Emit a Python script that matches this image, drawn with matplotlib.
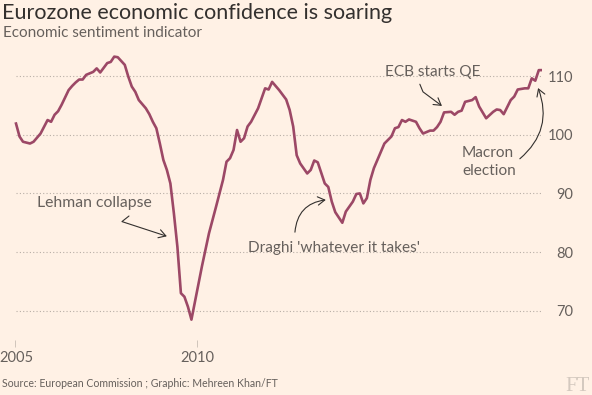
import pandas as pd
import numpy as np
import matplotlib.pyplot as plt
import matplotlib.transforms as mtransforms
from matplotlib.patches import FancyArrowPatch
from matplotlib.path import Path

# Economic sentiment indicator
months = ["2005-01","2005-02","2005-03","2005-05","2005-06","2005-08","2005-10","2005-11","2005-12",
          "2006-01","2006-02","2006-04","2006-05","2006-06","2006-07","2006-08","2006-09","2006-11","2006-12",
          "2007-01","2007-03","2007-04","2007-05","2007-06","2007-08","2007-09","2007-10","2007-11","2007-12",
          "2008-02","2008-03","2008-04","2008-05","2008-06","2008-07","2008-08","2008-09","2008-10","2008-11","2008-12",
          "2009-01","2009-02","2009-03","2009-06","2009-08","2009-10","2009-12",
          "2010-01","2010-02","2010-03","2010-04","2010-05","2010-06","2010-07","2010-08","2010-10","2010-11","2010-12",
          "2011-01","2011-02","2011-04","2011-06","2011-07","2011-08","2011-09","2011-10","2011-12",
          "2012-01","2012-02","2012-03","2012-05","2012-06","2012-07","2012-08","2012-10","2012-11",
          "2013-01","2013-02","2013-03","2013-04","2013-05","2013-06","2013-07","2013-09","2013-10","2013-12",
          "2014-01","2014-02","2014-03","2014-04","2014-05","2014-06","2014-07","2014-08","2014-09","2014-11","2014-12",
          "2015-01","2015-02","2015-03","2015-05","2015-06","2015-07","2015-08","2015-09","2015-11","2015-12",
          "2016-01","2016-03","2016-05","2016-06","2016-07","2016-08","2016-10","2016-11","2016-12",
          "2017-02","2017-03","2017-04","2017-05","2017-06","2017-07"]
esi = [101.9,99.7,98.8,98.5,98.8,100.2,102.5,102.2,103.4,
       104.0,105.1,107.6,108.3,108.9,109.4,109.4,110.2,110.7,111.3,
       110.6,112.2,112.4,113.3,113.2,111.9,109.9,108.2,107.3,105.9,
       104.5,103.5,102.2,101.1,98.5,95.7,94.0,91.7,86.6,80.9,73.0,
       72.4,70.7,68.5,77.6,83.2,87.7,92.3,
       95.4,96.0,97.4,100.8,98.8,99.4,101.4,102.2,104.5,106.2,107.9,
       107.7,109.0,107.6,106.0,104.2,101.4,96.5,95.1,93.4,
       94.0,95.6,95.3,91.7,91.1,88.6,86.8,85.0,86.9,
       88.6,89.9,90.0,88.3,89.2,92.3,94.3,97.1,98.5,99.7,
       101.1,101.3,102.5,102.2,102.6,102.4,102.2,101.1,100.2,100.7,100.7,
       101.3,102.2,103.8,103.9,103.4,103.9,104.1,105.6,105.9,106.4,
       104.8,102.8,103.9,104.3,104.2,103.5,105.9,106.5,107.7,
       107.9,107.9,109.6,109.2,111.0,111.0]

y_ticks = [70, 80, 90, 100, 110]
year_labels = ["2005", "2010"]

bg = "#fff1e5"
line_col = "#9c4866"
grey = "#66605c"
dark = "#33302e"

dates = pd.to_datetime(months)
t = (dates.year - 2005) * 12 + (dates.month - 1)   # months since Jan 2005

plt.rcParams["font.family"] = ["Lato", "DejaVu Sans"]

fig = plt.figure(figsize=(5.92, 3.95), dpi=100, facecolor=bg)
ax = fig.add_axes([12/592, 1-340/395, 530.3/592, 290/395])
ax.set_facecolor(bg)

px_per_month = 3.509
ax.set_xlim(-4/px_per_month, t[-1])
ax.set_ylim(65.03, 114.43)

# dotted grid only across the data span
ax.hlines(y_ticks, t[0], t[-1], colors="#b8aea6", linestyles=(0, (1, 2)), linewidth=0.8, zorder=1)
ax.plot(t, esi, color=line_col, linewidth=1.9, solid_joinstyle="round", zorder=3)

for s in ax.spines.values():
    s.set_visible(False)

ax.yaxis.tick_right()
ax.set_yticks(y_ticks)
ax.tick_params(axis="y", length=0, pad=22.5, labelsize=10.5, labelcolor=grey)
for lbl in ax.get_yticklabels():
    lbl.set_ha("right")

# year ticks sit where the original chart puts them
ax.set_xticks([-0.3, 51.6])
ax.set_xticklabels(year_labels)
ax.tick_params(axis="x", length=5, width=0.6, color="#c9beb4", direction="out", pad=3,
               labelsize=10.5, labelcolor=grey)
first = ax.get_xticklabels()[0]
first.set_transform(first.get_transform() + mtransforms.ScaledTranslation(1.5/100, 0, fig.dpi_scale_trans))

# annotations
ax.text(6.0, 88.4, "Lehman collapse", fontsize=11.3, color=grey, ha="left", va="center")
ax.text(66.1, 80.7, "Draghi 'whatever it takes'", fontsize=11.1, color=grey, ha="left", va="center")
ax.text(105.2, 110.7, "ECB starts QE", fontsize=11.1, color=grey, ha="left", va="center")
ax.text(127.1, 95.35, "Macron\nelection", fontsize=11.1, color=grey, ha="left", va="center", linespacing=1.45)

arrow_kw = dict(arrowstyle="->,head_length=0.5,head_width=0.3", color=dark, linewidth=0.8,
                mutation_scale=10)
ax.add_patch(FancyArrowPatch(path=Path([(32.2, 86.15), (30.2, 85.2), (43.0, 82.7)]), **arrow_kw))
ax.add_patch(FancyArrowPatch(path=Path([(115.1, 108.6), (116.0, 107.3), (121.4, 104.9)]), **arrow_kw))
ax.annotate("", xy=(88.3, 88.9), xytext=(79.5, 83.4),
            arrowprops=dict(connectionstyle="arc3,rad=-0.4", shrinkA=0, shrinkB=0, **arrow_kw))
ax.annotate("", xy=(148.8, 107.95), xytext=(143.6, 95.9),
            arrowprops=dict(connectionstyle="arc3,rad=0.35", shrinkA=0, shrinkB=0, **arrow_kw))

fig.text(2/592, 1-19/395, "Eurozone economic confidence is soaring", fontsize=15.5, color=dark, va="baseline")
fig.text(3/592, 1-37/395, "Economic sentiment indicator", fontsize=11, color=grey, va="baseline")
fig.text(2/592, 1-387/395, "Source: European Commission ; Graphic: Mehreen Khan/FT", fontsize=7.6,
         color=grey, va="baseline")
fig.text(590/592, 1-391/395, "FT", fontsize=15, family="Liberation Serif", color="#d4c9bf",
         ha="right", va="baseline")

fig.savefig("out.png", dpi=100, facecolor=bg)
